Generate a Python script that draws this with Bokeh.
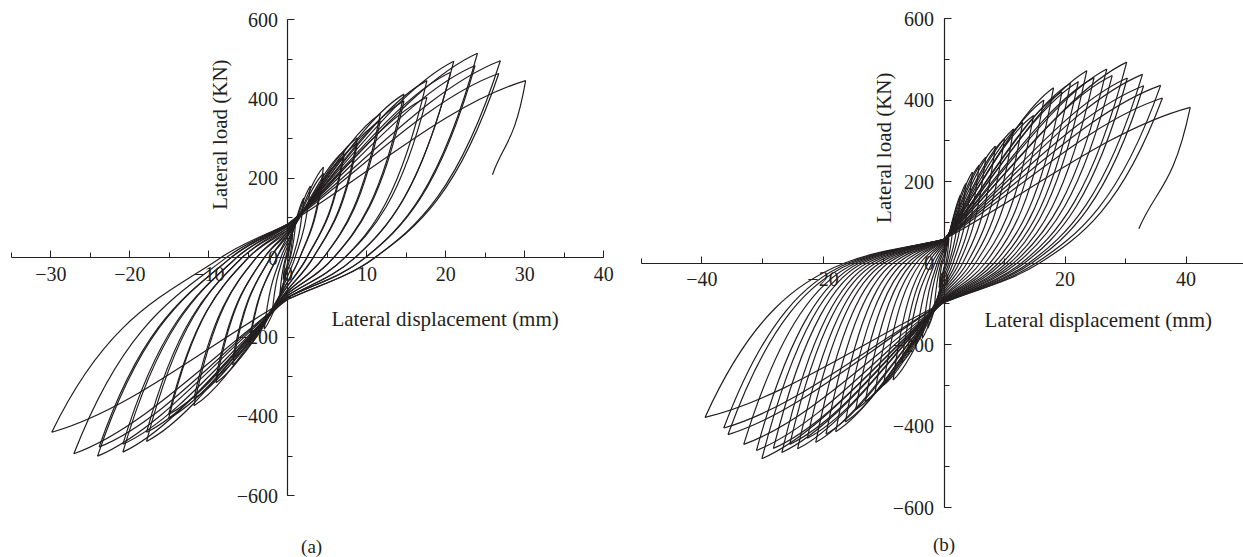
import numpy as np
from bokeh.plotting import figure
from bokeh.models import (Range1d, LinearAxis, SingleIntervalTicker,
                          CustomJSTickFormatter, Label, ColumnDataSource)
from bokeh.layouts import row
from bokeh.embed import file_html
from bokeh.resources import INLINE

# ---------------- data ----------------
# Panel (a): peak points of each half cycle (mm, kN)
A_POS_D = [0.6, 1.0, 2.0, 2.85, 4.5, 4.5, 7.1, 7.1, 8.8, 8.8, 11.7, 11.7, 14.7, 14.7,
           17.6, 17.6, 21.0, 20.6, 24.0, 23.7, 26.9, 26.7, 30.1]
A_POS_F = [60, 95, 150, 180, 228, 212, 268, 255, 302, 288, 362, 345, 412, 395,
           446, 404, 495, 467, 515, 484, 496, 464, 446]
A_NEG_D = [-0.6, -1.0, -2.0, -3.0, -4.9, -4.9, -7.0, -7.0, -9.1, -9.1, -11.9, -11.9,
           -15.1, -15.1, -17.9, -17.9, -20.9, -20.9, -24.1, -23.9, -27.1, -29.9]
A_NEG_F = [-55, -90, -140, -180, -221, -210, -270, -255, -315, -300, -373, -355,
           -405, -395, -463, -440, -490, -470, -500, -477, -494, -440]
A_RES_P = [0.2, 0.3, 0.6, 0.9, 1.5, 1.5, 2.4, 2.4, 3.2, 3.2, 4.5, 4.5, 5.8, 5.8,
           7.2, 7.2, 8.5, 8.5, 9.8, 9.8, 11.0, 11.0]
A_RES_N = [-0.2, -0.3, -0.6, -0.9, -1.4, -1.4, -2.2, -2.2, -3.0, -3.0, -4.0, -4.0,
           -5.0, -5.0, -5.8, -5.8, -6.5, -6.5, -7.2, -7.2, -7.8, -8.5]
A_PIN_UP = [0, 10, 20, 30, 40, 45, 55, 55, 60, 60, 65, 65, 70, 70, 75, 75, 80, 80,
            82, 82, 85, 85, 85]
A_PIN_DN = [-10, -20, -30, -45, -60, -60, -70, -70, -80, -80, -85, -85, -90, -90,
            -95, -95, -100, -100, -100, -100, -105, -105]
A_END = (25.9, 209)

# Panel (b)
B_POS_D = [0.8, 1.6, 2.7, 3.6, 4.7, 5.8, 6.9, 8.5, 10.0, 11.5, 13.0, 14.8, 16.5, 18.1,
           19.5, 20.9, 22.2, 23.6, 24.8, 26.9, 27.8, 30.2, 30.3, 32.8, 33.0, 35.8, 36.1, 40.7]
B_POS_F = [60, 110, 166, 195, 223, 240, 260, 287, 305, 329, 345, 362, 400, 430,
           420, 441, 445, 472, 455, 476, 460, 493, 454, 463, 435, 436, 405, 382]
B_NEG_D = [-0.8, -1.6, -2.7, -3.6, -4.7, -6.0, -7.0, -8.4, -10.0, -11.4, -13.0, -14.6,
           -16.3, -17.9, -19.5, -21.2, -22.6, -24.2, -25.5, -26.8, -28.2, -30.1, -31.0,
           -33.1, -35.7, -36.4, -39.5]
B_NEG_F = [-60, -110, -160, -185, -200, -213, -245, -287, -300, -318, -340, -360,
           -390, -414, -420, -440, -430, -456, -445, -465, -455, -480, -460, -445,
           -421, -405, -379]
B_RES_P = [0.3, 0.5, 0.8, 1.1, 1.5, 2.0, 2.5, 3.1, 3.8, 4.5, 5.2, 6.0, 6.8, 7.6, 8.3,
           9.0, 9.6, 10.3, 10.9, 11.5, 12.1, 12.8, 13.3, 14.0, 14.5, 15.2, 15.8]
B_RES_N = [-0.3, -0.5, -0.8, -1.1, -1.5, -2.0, -2.6, -3.2, -3.9, -4.6, -5.3, -6.0,
           -6.8, -7.6, -8.4, -9.2, -9.9, -10.6, -11.3, -12.0, -12.7, -13.4, -14.0,
           -14.6, -15.2, -15.8, -16.4]
B_PIN_UP = [0, 10, 20, 30, 35, 40, 45, 48, 50, 52, 54, 55, 55, 56, 56, 57, 57, 57, 58,
            58, 58, 58, 58, 58, 58, 58, 58, 58]
B_PIN_DN = [-10, -20, -30, -40, -50, -55, -60, -65, -70, -75, -80, -82, -85, -87, -88,
            -90, -90, -92, -92, -94, -94, -95, -95, -96, -96, -97, -97]
B_END = (32.2, 84)

X_LABEL = "Lateral displacement (mm)"
Y_LABEL = "Lateral load (KN)"

FONT = "Liberation Serif"
INK = "#231f20"


def build_segments(pos_d, pos_f, neg_d, neg_f, res_p, res_n, pin_up, pin_dn, end):
    K = [(0.0, 0.0, "start")]
    for i in range(len(pos_d)):
        if i > 0:
            K.append((res_n[i - 1], 0.0, "zero"))
            K.append((0.0, pin_up[i], "pinch"))
        K.append((pos_d[i], pos_f[i], "peak"))
        if i < len(neg_d):
            K.append((res_p[i], 0.0, "zero"))
            K.append((0.0, pin_dn[i], "pinch"))
            K.append((neg_d[i], neg_f[i], "peak"))
    K.append((end[0], end[1], "end"))

    n = len(K)
    s_in = [0.0] * n
    s_out = [0.0] * n
    for j in range(n):
        x, y, kind = K[j]
        s1 = s2 = None
        if j > 0:
            xp, yp, _ = K[j - 1]
            s1 = (y - yp) / (x - xp)
        if j < n - 1:
            xq, yq, _ = K[j + 1]
            s2 = (yq - y) / (xq - x)
        if kind == "start":
            s_out[j] = s2
        elif kind == "end":
            s_in[j] = s1
        elif kind == "peak":
            s_in[j] = 0.5 * s1
            s_out[j] = 2.0 * s2
        elif kind == "zero":
            s = 2.0 / (1.0 / s1 + 1.0 / s2) if (s1 > 0 and s2 > 0) else 0.5 * (s1 + s2)
            s_in[j] = s_out[j] = s
        else:  # pinch
            s_in[j] = s1
            s_out[j] = 1.0 * s2

    d = dict(x0=[], y0=[], x1=[], y1=[], cx0=[], cy0=[], cx1=[], cy1=[])
    for j in range(n - 1):
        x0, y0, _ = K[j]
        x1, y1, _ = K[j + 1]
        dx = x1 - x0
        d["x0"].append(x0); d["y0"].append(y0)
        d["x1"].append(x1); d["y1"].append(y1)
        d["cx0"].append(x0 + dx / 3.0); d["cy0"].append(y0 + dx / 3.0 * s_out[j])
        d["cx1"].append(x1 - dx / 3.0); d["cy1"].append(y1 - dx / 3.0 * s_in[j + 1])
    return ColumnDataSource(d)


MINUS_FMT = "return tick < 0 ? '\u2212' + Math.abs(tick) : String(tick);"


def make_panel(width, height, xr, yr, xbounds, xint, data, xlab_pos, ylab_pos, tag_pos, tag):
    p = figure(width=width, height=height, x_range=Range1d(*xr), y_range=Range1d(*yr),
               output_backend="svg", toolbar_location=None, x_axis_type=None,
               y_axis_type=None, min_border=0)
    p.outline_line_color = None
    p.background_fill_color = "white"
    p.border_fill_color = "white"

    src = build_segments(*data)
    p.bezier(x0="x0", y0="y0", x1="x1", y1="y1", cx0="cx0", cy0="cy0",
             cx1="cx1", cy1="cy1", source=src, line_color=INK, line_width=1.2)

    xa = LinearAxis(fixed_location=0, bounds=xbounds,
                    ticker=SingleIntervalTicker(interval=xint, num_minor_ticks=2),
                    formatter=CustomJSTickFormatter(code=MINUS_FMT))
    ya = LinearAxis(fixed_location=0, bounds=(-600, 600),
                    ticker=SingleIntervalTicker(interval=200, num_minor_ticks=2),
                    formatter=CustomJSTickFormatter(code=MINUS_FMT))
    for ax in (xa, ya):
        ax.axis_line_color = INK
        ax.axis_line_width = 1.2
        ax.major_tick_line_color = INK
        ax.minor_tick_line_color = INK
        ax.major_tick_in = 7
        ax.major_tick_out = 0
        ax.minor_tick_in = 5
        ax.minor_tick_out = 0
        ax.major_label_text_font = FONT
        ax.major_label_text_font_size = "20px"
        ax.major_label_text_color = INK
    xa.major_label_standoff = 9
    ya.major_label_standoff = 10
    p.add_layout(xa, "below")
    p.add_layout(ya, "left")

    p.add_layout(Label(x=xlab_pos[0], y=xlab_pos[1], text=X_LABEL, text_font=FONT,
                       text_font_size="21px", text_color=INK, text_align="center",
                       text_baseline="middle"))
    p.add_layout(Label(x=ylab_pos[0], y=ylab_pos[1], text=Y_LABEL, text_font=FONT,
                       text_font_size="21px", text_color=INK, text_align="center",
                       text_baseline="middle", angle=np.pi / 2))
    p.add_layout(Label(x=tag_pos[0], y=tag_pos[1], text=tag, text_font=FONT,
                       text_font_size="19px", text_color=INK, text_align="center",
                       text_baseline="middle"))
    return p


pa = make_panel(620, 557, (-36.39, 42.11), (-755.5, 647.9), (-35, 40), 10,
                (A_POS_D, A_POS_F, A_NEG_D, A_NEG_F, A_RES_P, A_RES_N, A_PIN_UP, A_PIN_DN, A_END),
                (19.9, -154), (-8.55, 310), (3.0, -728), "(a)")
pb = make_panel(623, 557, (-53.47, 49.5), (-722.7, 644.2), (-50, 50), 20,
                (B_POS_D, B_POS_F, B_NEG_D, B_NEG_F, B_RES_P, B_RES_N, B_PIN_UP, B_PIN_DN, B_END),
                (25.5, -141), (-10.0, 283), (0.0, -692), "(b)")

layout = row(pa, pb)
open("out.html", "w").write(file_html(layout, INLINE))
